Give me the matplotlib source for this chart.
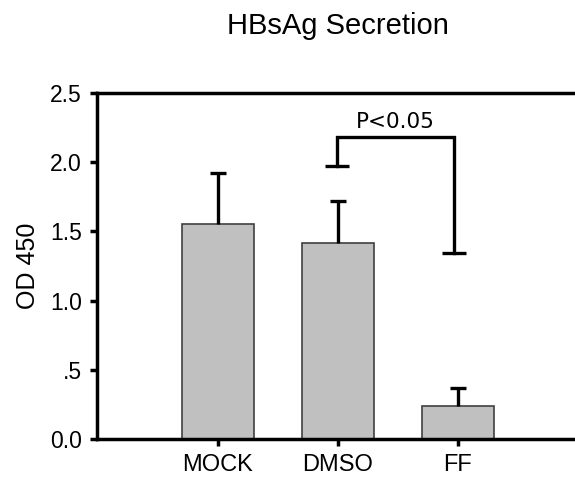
import matplotlib.pyplot as plt
import numpy

# data
groups = ['MOCK', 'DMSO', 'FF']
od450 = [1.55, 1.415, 0.238]
err = [0.375, 0.305, 0.128]

# significance bracket between DMSO and FF
bracket_x = [0.99, 1.97]
bracket_top = 2.18
bracket_ends = [1.975, 1.346]
p_label = 'P<0.05'

yticks = [0.0, 0.5, 1.0, 1.5, 2.0, 2.5]
ytick_labels = ['0.0', '.5', '1.0', '1.5', '2.0', '2.5']

plt.rcParams['font.family'] = ['Liberation Sans', 'DejaVu Sans']

fig = plt.figure(figsize=(5.75, 4.8), dpi=100)
ax = fig.add_axes([97/575, 1-439/480, 1-97/575, (439-93)/480])

x = numpy.arange(len(groups))
tops = numpy.array(od450) + numpy.array(err)
ax.bar(x, od450, width=0.6, color='#c0c0c0', edgecolor='#404040', linewidth=1.2, zorder=2)
# upper-only error bars
ax.vlines(x, od450, tops, color='black', lw=2.4, zorder=3)
ax.plot(x, tops, ls='none', marker='_', markersize=11, mew=2.4, color='black', zorder=3)

# bracket
ax.plot([bracket_x[0], bracket_x[0], bracket_x[1], bracket_x[1]],
        [bracket_ends[0], bracket_top, bracket_top, bracket_ends[1]],
        color='black', lw=2.4, solid_joinstyle='miter')
ax.plot(bracket_x, bracket_ends, ls='none', marker='_', markersize=17, mew=2.4, color='black')
ax.text(numpy.mean(bracket_x), bracket_top + 0.035, p_label, ha='center', va='bottom',
        fontsize=15.5, family='DejaVu Sans')

ax.set_xlim(-1.008, 2.975)
ax.set_ylim(0, 2.5)
ax.set_xticks(x)
ax.set_xticklabels(groups, fontsize=17)
ax.set_yticks(yticks)
ax.set_yticklabels(ytick_labels, fontsize=16.5)
ax.tick_params(axis='both', direction='out', length=5, width=2.5, pad=6)
ax.tick_params(axis='x', pad=6)
for side in ['left', 'bottom', 'top']:
    ax.spines[side].set_linewidth(2.5)
ax.spines['right'].set_visible(False)
ax.set_ylabel('OD 450', fontsize=18, labelpad=7)

fig.text(338/575, 1-26/480, 'HBsAg Secretion', ha='center', va='center', fontsize=21)

plt.savefig('out.png', dpi=100)
